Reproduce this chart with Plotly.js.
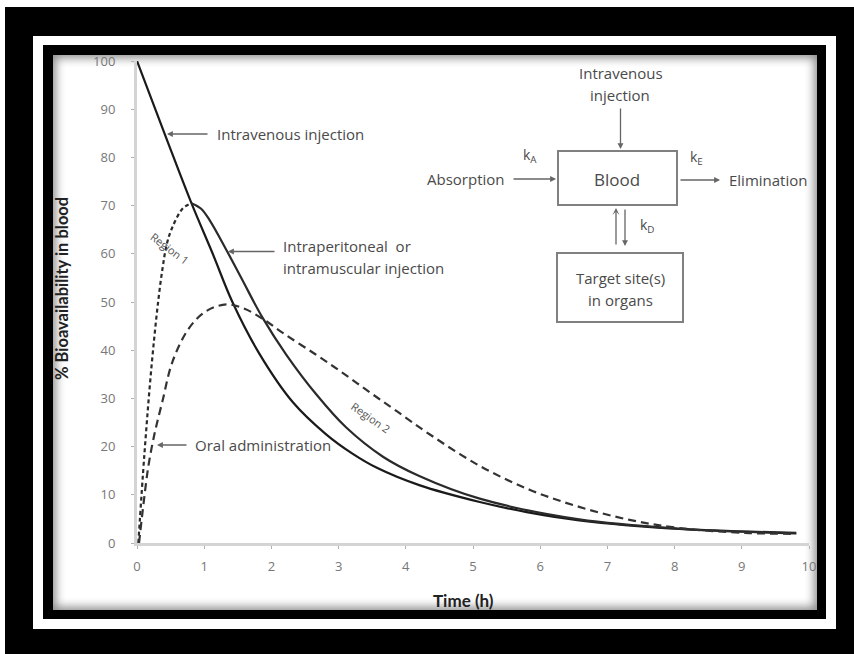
<!DOCTYPE html>
<html>
<head>
<meta charset="utf-8">
<script src="https://cdn.plot.ly/plotly-3.0.1.min.js"></script>
<style>
  html, body { margin:0; padding:0; background:#fff; width:854px; height:654px; overflow:hidden; }
  .f { position:absolute; }
  #f1 { left:5px; top:7px; width:849px; height:647px; background:#000; }
  #f2 { left:33px; top:36px; width:803px; height:593px; background:#fff; }
  #f3 { left:43px; top:45px; width:783px; height:574px; background:#000; }
  #f4 { left:53px; top:55px; width:764px; height:555px; background:#fff; box-shadow: inset 0 0 10px 3px rgba(0,0,0,0.45); }
  #chart { position:absolute; left:0; top:0; width:854px; height:654px; }
</style>
</head>
<body>
<div class="f" id="f1"></div>
<div class="f" id="f2"></div>
<div class="f" id="f3"></div>
<div class="f" id="f4"></div>
<div id="chart"></div>
<script>
// ---- data ----
const ivTime   = [0, 0.43, 0.81, 1.13, 1.42, 1.82, 2.32, 2.81, 3.2, 3.57, 4.2, 5.1, 5.8, 6.58, 8.07, 9.81];
const ivValue  = [100, 84.2, 70.5, 59.9, 50.0, 39.3, 29.2, 22.6, 18.6, 15.6, 12.0, 8.5, 6.4, 4.7, 2.9, 2.0];

const ipRiseTime  = [0.02, 0.11, 0.21, 0.31, 0.38, 0.44, 0.52, 0.68, 0.81];
const ipRiseValue = [0, 18.4, 35.7, 49.5, 57.0, 61.8, 65.3, 69.4, 70.5];
const ipFallTime  = [0.81, 0.95, 1.08, 1.33, 1.57, 1.87, 2.22, 2.67, 3.11, 3.66, 4.2, 5.1, 6.58, 8.07, 9.81];
const ipFallValue = [70.5, 69.4, 67.0, 60.8, 54.5, 46.7, 39.1, 30.8, 24.0, 17.9, 13.9, 9.2, 4.9, 3.0, 2.1];

const oralTime  = [0.03, 0.1, 0.17, 0.26, 0.38, 0.53, 0.78, 1.03, 1.33, 1.6, 1.87, 2.2, 2.66, 3.06, 3.46, 3.86, 4.37, 5.1, 5.85, 6.58, 7.33, 8.07, 9.06, 9.81];
const oralValue = [0, 8.5, 16.0, 22.6, 29.5, 37.7, 44.7, 48.1, 49.5, 48.6, 46.5, 43.3, 39.1, 35.3, 31.3, 27.4, 22.4, 16.0, 11.0, 7.5, 4.8, 3.1, 2.1, 1.9];

const xTicks = [0,1,2,3,4,5,6,7,8,9,10];
const yTicks = [0,10,20,30,40,50,60,70,80,90,100];

const yTitle = "% Bioavailability in blood";
const xTitle = "Time (h)";

// ---- layout helpers: pixel -> data ----
const L = 137, R = 45, T = 61, B = 111;
const W = 854, H = 654;
const pw = W - L - R, ph = H - T - B;
const fx = p => (p - L) / pw * 10;
const fy = p => (H - B - p) / ph * 100;

const FONT = "'Open Sans', Lato, sans-serif";
const TFONT = "Lato, 'Open Sans', sans-serif";
const txt = '#4a4a4a';
const arrowCol = '#666';

const traces = [
  { x: ivTime, y: ivValue, mode:'lines', line:{color:'#1a1a1a', width:2.2, shape:'spline'}, cliponaxis:false },
  { x: ipRiseTime, y: ipRiseValue, mode:'lines', line:{color:'#2a2a2a', width:2.2, dash:'4px,3px', shape:'spline'}, cliponaxis:false },
  { x: ipFallTime, y: ipFallValue, mode:'lines', line:{color:'#2a2a2a', width:2.2, shape:'spline'}, cliponaxis:false },
  { x: oralTime, y: oralValue, mode:'lines', line:{color:'#333', width:2.2, dash:'8px,5px', shape:'spline'}, cliponaxis:false }
];

function label(text, px, py, opts) {
  return Object.assign({
    x: fx(px), y: fy(py), xref:'x', yref:'y', text: text, showarrow:false,
    font:{family:FONT, size:15, color:txt}, xanchor:'center', yanchor:'middle'
  }, opts || {});
}
function arrow(tx, ty, hx, hy, opts) {
  return Object.assign({
    x: fx(hx), y: fy(hy), ax: fx(tx), ay: fy(ty), xref:'x', yref:'y', axref:'x', ayref:'y',
    text:'', showarrow:true, arrowhead:2, arrowsize:0.9, arrowwidth:1.3, arrowcolor:arrowCol, standoff:0
  }, opts || {});
}
const kFont = {family:FONT, size:14, color:txt};
const rFont = {family:FONT, size:11, color:'#555'};

const annotations = [
  // callouts
  arrow(209, 134, 167, 134),
  label('Intravenous injection', 215, 134, {xanchor:'left'}),
  arrow(276, 251.5, 228, 251.5),
  label('Intraperitoneal  or', 281, 246, {xanchor:'left'}),
  label('intramuscular injection', 281, 268, {xanchor:'left'}),
  arrow(188, 445, 157, 445),
  label('Oral administration', 193, 445, {xanchor:'left'}),
  label('Region 1', 170, 248, {textangle:37, font:rFont}),
  label('Region 2', 371, 417, {textangle:35, font:rFont}),

  // diagram
  label('Intravenous', 621, 73),
  label('injection', 620, 95),
  arrow(620.5, 107, 620.5, 149),
  label('Blood', 617, 179, {font:{family:FONT, size:17, color:txt}}),
  label('Absorption', 466, 179),
  arrow(512, 179, 556, 179),
  label('k<sub>A</sub>', 530, 155, {font:kFont}),
  arrow(679, 180, 720, 180),
  label('Elimination', 727, 180, {xanchor:'left'}),
  label('k<sub>E</sub>', 696, 157, {font:kFont}),
  arrow(616, 246, 616, 208, {arrowhead:3}),
  arrow(625, 208, 625, 246),
  label('k<sub>D</sub>', 647, 225, {font:kFont}),
  label('Target site(s)', 620, 278),
  label('in organs', 620, 300),

  // axis titles
  { xref:'paper', yref:'paper', x:(62 - L)/pw, y:(H - B - 289)/ph, text:'<b>'+yTitle+'</b>', textangle:-90,
    showarrow:false, font:{family:TFONT, size:16.5, color:'#222'}, xanchor:'center', yanchor:'middle' },
  { xref:'paper', yref:'paper', x:(463 - L)/pw, y:(H - B - 600)/ph, text:'<b>'+xTitle+'</b>',
    showarrow:false, font:{family:TFONT, size:17, color:'#222'}, xanchor:'center', yanchor:'middle' }
];

const shapes = [
  { type:'rect', xref:'x', yref:'y', x0:fx(558), x1:fx(677), y0:fy(151), y1:fy(205), line:{color:'#808080', width:2} },
  { type:'rect', xref:'x', yref:'y', x0:fx(557), x1:fx(683), y0:fy(253), y1:fy(322), line:{color:'#808080', width:2} }
];

const axisCommon = {
  showgrid:false, zeroline:false, showline:true, linecolor:'#d4d4d4', linewidth:3,
  ticks:'outside', ticklen:3, tickcolor:'#b0b0b0',
  tickfont:{family:FONT, size:13, color:'#777'}, fixedrange:true
};

const layout = {
  width: W, height: H,
  margin: {l:L, r:R, t:T, b:B, pad:0},
  paper_bgcolor:'rgba(0,0,0,0)', plot_bgcolor:'rgba(0,0,0,0)',
  showlegend:false,
  font:{family:FONT, color:'#777', size:13},
  xaxis: Object.assign({ range:[0,10], tickvals:xTicks, ticktext:xTicks.map(String), ticklabelstandoff:6 }, axisCommon),
  yaxis: Object.assign({ range:[0,100], tickvals:yTicks, ticktext:yTicks.map(String), ticklabelstandoff:13 }, axisCommon),
  annotations: annotations,
  shapes: shapes
};

Plotly.newPlot('chart', traces, layout, {staticPlot:true, displayModeBar:false});
</script>
</body>
</html>
